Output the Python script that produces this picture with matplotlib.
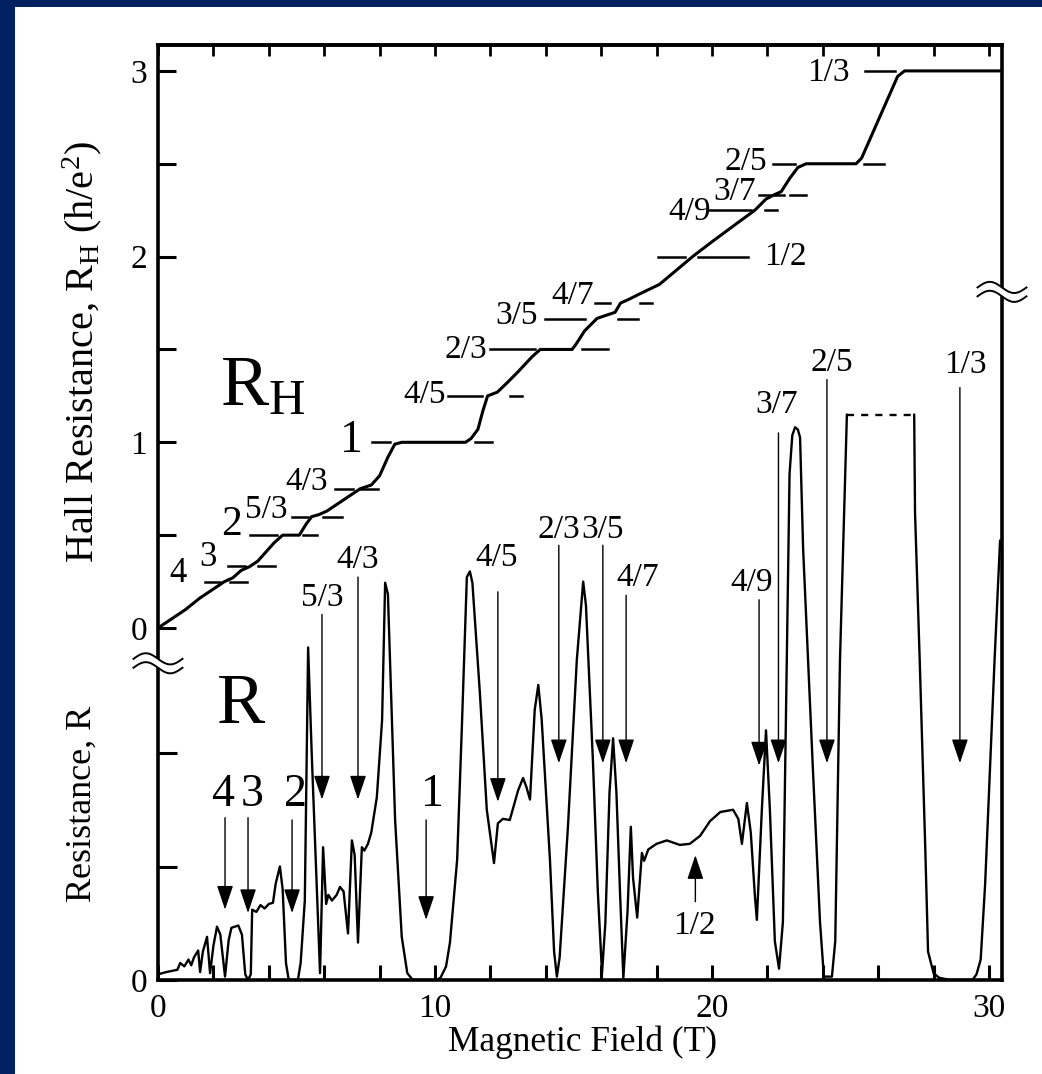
import numpy as np
import matplotlib
matplotlib.use('Agg')
import matplotlib.pyplot as plt
from matplotlib.patches import Rectangle
from matplotlib.transforms import blended_transform_factory

plt.rcParams['font.family'] = ['Liberation Serif', 'DejaVu Serif']
plt.rcParams['mathtext.fontset'] = 'custom'
plt.rcParams['mathtext.rm'] = 'Liberation Serif'
plt.rcParams['mathtext.it'] = 'Liberation Serif:italic'

# Hall resistance R_H (h/e^2) against magnetic field (T)
hall_B = [0.0, 0.5, 1.0, 1.5, 2.0, 2.4, 2.7, 3.0, 3.3, 3.6, 3.9, 4.2, 4.5, 5.1,
          5.35, 5.55, 5.8, 6.1, 6.5, 7.0, 7.3, 7.7, 8.0, 8.3, 8.55, 8.8, 11.1,
          11.3, 11.55, 11.73, 11.9, 12.25, 12.6, 13.0, 13.5, 13.8, 14.95, 15.1,
          15.4, 15.85, 16.1, 16.5, 16.7, 17.0, 17.4, 18.1, 19.3, 20.0, 21.0,
          21.55, 21.95, 22.25, 22.5, 22.8, 23.1, 23.4, 25.2, 25.4, 26.7, 26.95,
          30.5]
hall_R = [0.0, 0.05, 0.1, 0.16, 0.21, 0.25, 0.27, 0.31, 0.33, 0.36, 0.41, 0.46,
          0.5, 0.5, 0.56, 0.6, 0.61, 0.63, 0.67, 0.72, 0.75, 0.77, 0.82, 0.92,
          0.99, 1.0, 1.0, 1.02, 1.07, 1.17, 1.25, 1.27, 1.32, 1.38, 1.46, 1.5,
          1.5, 1.53, 1.6, 1.667, 1.68, 1.7, 1.75, 1.77, 1.8, 1.85, 2.0, 2.08,
          2.19, 2.25, 2.31, 2.333, 2.35, 2.42, 2.48, 2.5, 2.5, 2.53, 2.97, 3.0,
          3.0]

# longitudinal resistance R (arb. units); nan = trace off scale
rxx_B = [0.0, 0.3, 0.7, 0.8, 0.95, 1.1, 1.2, 1.3, 1.45, 1.52, 1.62, 1.77, 1.88,
         2.0, 2.13, 2.25, 2.42, 2.55, 2.65, 2.9, 3.03, 3.15, 3.25, 3.35, 3.4,
         3.55, 3.7, 3.85, 4.0, 4.15, 4.25, 4.4, 4.5, 4.62, 4.72, 5.05, 5.15,
         5.3, 5.42, 5.55, 5.73, 5.85, 5.96, 6.07, 6.15, 6.28, 6.45, 6.57, 6.7,
         6.86, 7.0, 7.1, 7.22, 7.36, 7.45, 7.58, 7.7, 7.9, 8.09, 8.2, 8.3,
         8.56, 8.8, 9.0, 9.2, 10.05, 10.2, 10.4, 10.54, 10.8, 10.97, 11.15,
         11.26, 11.35, 11.62, 11.87, 12.13, 12.27, 12.45, 12.7, 13.0, 13.18,
         13.3, 13.43, 13.6, 13.73, 13.85, 14.15, 14.3, 14.4, 14.5, 14.8, 15.12,
         15.35, 15.45, 15.7, 15.88, 16.03, 16.15, 16.3, 16.43, 16.55, 16.68,
         16.8, 16.95, 17.07, 17.15, 17.3, 17.47, 17.55, 17.7, 18.0, 18.37,
         18.84, 19.2, 19.57, 19.93, 20.3, 20.76, 20.95, 21.08, 21.26, 21.4,
         21.55, 21.62, 21.8, 21.95, 22.09, 22.27, 22.42, 22.56, 22.7, 22.8,
         22.9, 23.0, 23.1, 23.18, 23.29, 23.65, 23.9, 24.04, 24.33, 24.45,
         24.62, 24.87, 26.0, 27.3, 27.33, 27.5, 27.7, 27.8, 28.0, 28.2, 28.6,
         29.4, 29.55, 29.7, 29.86, 30.03, 30.2, 30.4]
rxx_R = [0.05, 0.07, 0.09, 0.15, 0.12, 0.18, 0.13, 0.2, 0.26, 0.07, 0.25, 0.38,
         0.06, 0.3, 0.47, 0.4, 0.03, 0.35, 0.46, 0.48, 0.4, 0.05, 0.0, 0.05,
         0.62, 0.6, 0.66, 0.63, 0.67, 0.68, 0.85, 1.0, 0.8, 0.15, 0.0, 0.0,
         0.15, 0.7, 2.93, 1.99, 0.82, 0.06, 1.17, 0.67, 0.75, 0.7, 0.75, 0.82,
         0.78, 0.41, 1.23, 1.1, 0.33, 1.17, 1.14, 1.2, 1.3, 1.61, 2.29, 3.5,
         3.4, 1.41, 0.38, 0.06, 0.0, 0.0, 0.02, 0.12, 0.33, 1.06, 2.23, 3.55,
         3.6, 3.5, 2.53, 1.5, 1.03, 1.38, 1.42, 1.41, 1.67, 1.78, 1.7, 1.59,
         2.38, 2.6, 2.3, 1.06, 0.25, 0.03, 0.2, 1.35, 2.82, 3.51, 3.3, 1.94,
         0.77, 0.06, 0.5, 1.65, 2.13, 1.65, 0.77, 0.02, 0.6, 1.35, 0.9, 0.55,
         1.12, 1.05, 1.15, 1.2, 1.23, 1.19, 1.2, 1.27, 1.4, 1.48, 1.5, 1.42,
         1.2, 1.56, 1.3, 0.74, 0.53, 1.5, 2.2, 1.5, 0.34, 0.1, 0.51, 2.81,
         4.46, 4.8, 4.87, 4.85, 4.78, 3.8, 1.82, 0.51, 0.03, 0.03, 0.34, 2.81,
         4.98, np.nan, 4.98, 4.12, 2.81, 1.16, 0.25, 0.06, 0.02, 0.0, 0.0, 0.05,
         0.18, 0.84, 1.82, 2.81, 3.87]

# filling factors marked on the Hall trace
hall_marks = ['4', '3', '2', '5/3', '4/3', '1', '4/5', '2/3', '3/5', '4/7',
              '1/2', '4/9', '3/7', '2/5', '1/3']
# (label x, label y, fontsize, reference dashes along B)
hall_layout = [
    (0.72, 0.296, 25, [(1.7, 2.24), (2.6, 3.2)]),
    (1.81, 0.382, 25, [(2.53, 3.14), (3.6, 4.22)]),
    (2.67, 0.555, 30, [(3.32, 4.3), (5.23, 5.74)]),
    (3.9, 0.635, 24, [(4.84, 5.42), (5.96, 6.64)]),
    (5.38, 0.79, 24, [(6.39, 7.04), (7.29, 7.94)]),
    (7.0, 1.01, 33, [(7.73, 8.38), (11.44, 12.06)]),
    (9.64, 1.255, 24, [(10.47, 11.7), (12.7, 13.14)]),
    (11.12, 1.5, 24, [(11.99, 13.6), (15.3, 16.25)]),
    (12.96, 1.68, 24, [(13.97, 15.42), (16.6, 17.33)]),
    (14.98, 1.79, 24, [(15.78, 16.32), (17.4, 17.83)]),
    (22.64, 2.0, 24, [(18.05, 19.03), (19.5, 21.3)]),
    (19.2, 2.24, 24, [(19.9, 21.4), (21.9, 22.35)]),
    (20.83, 2.35, 24, [(21.7, 22.6), (22.8, 23.4)]),
    (21.23, 2.51, 24, [(22.2, 23.0), (25.5, 26.2)]),
    (24.19, 2.99, 24, [(25.52, 26.6)]),
]

# filling factors marked on the resistance trace (field of minimum)
r_marks = ['4', '3', '2', '5/3', '4/3', '1', '4/5', '2/3', '3/5', '4/7',
           '4/9', '3/7', '2/5', '1/3']
r_fields = [2.42, 3.25, 4.84, 5.92, 7.22, 9.68, 12.27, 14.47, 16.06, 16.9,
            21.7, 22.4, 24.15, 28.95]
# (arrow top, arrow tip, label x, label y, fontsize)
r_layout = [
    (1.43, 0.62, 2.35, 1.63, 33), (1.43, 0.59, 3.4, 1.63, 33),
    (1.41, 0.59, 4.95, 1.63, 33), (3.22, 1.59, 5.92, 3.37, 24),
    (3.55, 1.59, 7.19, 3.7, 24), (1.41, 0.53, 9.9, 1.63, 33),
    (3.42, 1.57, 12.24, 3.72, 24), (3.83, 1.91, 14.47, 3.97, 24),
    (3.83, 1.91, 16.06, 3.97, 24), (3.39, 1.91, 17.33, 3.54, 24),
    (3.35, 1.89, 21.44, 3.5, 24), (4.82, 1.91, 22.35, 5.07, 24),
    (5.29, 1.91, 24.33, 5.44, 24), (5.22, 1.91, 29.13, 5.42, 24),
]
half_field = 19.4

navy = '#002060'
fig = plt.figure(figsize=(10.42, 10.74), dpi=100, facecolor=navy)
fig.patches.append(Rectangle((15 / 1042, 0), 1, 1 - 7 / 1074, transform=fig.transFigure,
                             facecolor='white', edgecolor='none', zorder=-5))

ax = fig.add_axes([158 / 1042, 1 - 980 / 1074, 844 / 1042, 935 / 1074])
ax.set_facecolor('none')
ax.set_xlim(0, 30.47)
ax.set_ylim(-1.8955, 3.1395)
axr = ax.twinx()
axr.set_ylim(0, 8.238)

for s in ax.spines.values():
    s.set_linewidth(2.6)
for s in axr.spines.values():
    s.set_visible(False)

ax.set_xticks(np.arange(0, 31, 2))
ax.set_xticklabels([str(v) if v % 10 == 0 else '' for v in range(0, 31, 2)])
ax.set_yticks([0, 0.5, 1, 1.5, 2, 2.5, 3])
ax.set_yticklabels(['0', '', '1', '', '2', '', '3'])
ax.tick_params(axis='both', direction='in', labelsize=24, width=2.2, pad=8)
ax.tick_params(axis='x', length=11, pad=10)
ax.tick_params(axis='y', length=13, right=False)

axr.yaxis.set_ticks_position('left')
axr.set_yticks([0, 1, 2])
axr.set_yticklabels(['0', '', ''])
axr.tick_params(axis='y', direction='in', length=14, width=2.2, labelsize=24,
                pad=8, left=True, right=False, labelleft=True, labelright=False)

top = ax.secondary_xaxis('top')
top.set_xticks(np.arange(0, 31, 2))
top.set_xticklabels([])
top.tick_params(direction='in', length=8, width=2.0)
top.spines['top'].set_linewidth(2.6)

# traces
ax.plot(hall_B, hall_R, color='k', lw=2.2, solid_joinstyle='round', zorder=4)
rb = np.array(rxx_B)
rr = np.array(rxx_R)
axr.plot(rb, rr, color='k', lw=1.7, solid_joinstyle='round', zorder=4)
gap = np.where(np.isnan(rr))[0]
for g in gap:
    axr.plot([rb[g - 1], rb[g + 1]], [rr[g - 1], rr[g + 1]], color='k', lw=1.7,
             linestyle=(0, (3.0, 3.0)), zorder=4)

# Hall plateau references
for lab, (lx, ly, fs, dashes) in zip(hall_marks, hall_layout):
    num, _, den = lab.partition('/')
    level = float(den or 1) / float(num)
    for x0, x1 in dashes:
        ax.plot([x0, x1], [level, level], color='k', lw=1.8, zorder=3)
    ax.text(lx, ly, lab, fontsize=fs, ha='center', va='center')

# arrows on resistance trace
head = '-|>,head_length=1.25,head_width=0.42'
for lab, bx, (ytop, ytip, lx, ly, fs) in zip(r_marks, r_fields, r_layout):
    axr.annotate('', xy=(bx, ytip), xytext=(bx, ytop),
                 arrowprops=dict(arrowstyle=head, mutation_scale=12, lw=1.0,
                                 color='k', shrinkA=0, shrinkB=0))
    axr.text(lx, ly, lab, fontsize=fs, ha='center', va='center')
axr.annotate('', xy=(half_field, 1.1), xytext=(half_field, 0.69),
             arrowprops=dict(arrowstyle=head, mutation_scale=12, lw=1.0,
                             color='k', shrinkA=0, shrinkB=0))
axr.text(half_field - 0.05, 0.48, '1/2', fontsize=24, ha='center', va='center')

ax.text(2.24, 1.2, 'R$_\\mathrm{H}$', fontsize=52, ha='left', va='baseline')
axr.text(2.13, 2.26, 'R', fontsize=52, ha='left', va='baseline')


def axis_break(xc, yc):
    tr = blended_transform_factory(ax.transAxes, ax.transData)
    t = np.linspace(-1, 1, 80)
    x = xc + 0.029 * t
    wave = -0.03 * np.sin(np.pi * t)
    axr.fill_between(x, yc - 0.024 + wave, yc + 0.024 + wave, transform=tr,
                     color='white', clip_on=False, zorder=8, lw=0)
    for sgn in (-1, 1):
        axr.plot(x, yc + sgn * 0.024 + wave, transform=tr, color='k', lw=1.4,
                 clip_on=False, zorder=9)


axis_break(0.0, -0.19)
axis_break(1.0, 1.81)

fig.text(582 / 1042, 1 - 1042 / 1074, 'Magnetic Field (T)', fontsize=25.5,
         ha='center', va='center')
fig.text(82 / 1042, 1 - 352 / 1074, 'Hall Resistance, R$_\\mathrm{H}$ (h/e$^2$)',
         fontsize=29, rotation=90, ha='center', va='center')
fig.text(82 / 1042, 1 - 804 / 1074, 'Resistance, R', fontsize=26, rotation=90,
         ha='center', va='center')

fig.savefig('out.png', dpi=100, facecolor=navy)
